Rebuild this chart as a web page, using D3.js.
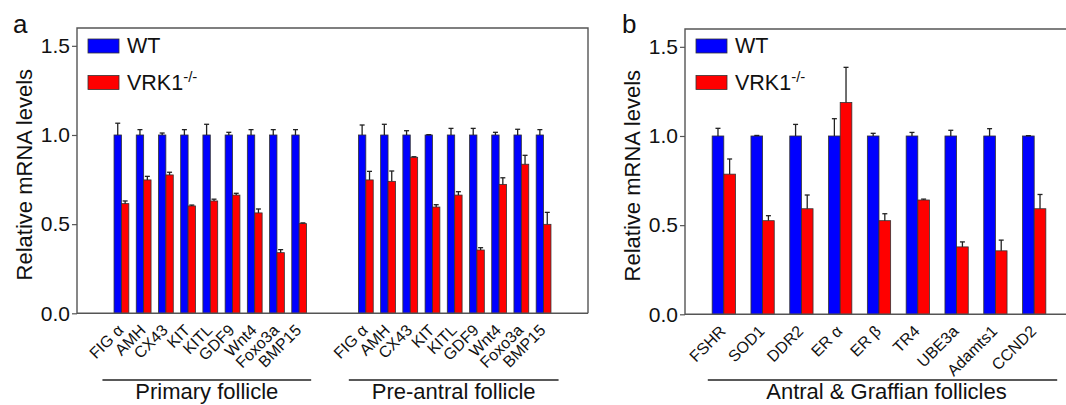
<!DOCTYPE html>
<html>
<head>
<meta charset="utf-8">
<script src="https://cdn.jsdelivr.net/npm/d3@7"></script>
<style>
  html, body { margin: 0; padding: 0; background: #fff; }
  svg { display: block; font-family: Arial, "Liberation Sans", sans-serif; }
</style>
</head>
<body>
<script>
// --- data ---
const genesA = ['FIG α', 'AMH', 'CX43', 'KIT', 'KITL', 'GDF9', 'Wnt4', 'Foxo3a', 'BMP15'];
const primaryWT = [1, 1, 1, 1, 1, 1, 1, 1, 1];
const primaryWTErr = [0.066, 0.03, 0.011, 0.03, 0.06, 0.015, 0.03, 0.03, 0.03];
const primaryKO = [0.615, 0.748, 0.776, 0.602, 0.63, 0.663, 0.563, 0.34, 0.503];
const primaryKOErr = [0.015, 0.02, 0.015, 0.005, 0.01, 0.01, 0.022, 0.017, 0.004];
const preantralWT = [1, 1, 1, 1, 1, 1, 1, 1, 1];
const preantralWTErr = [0.056, 0.06, 0.024, 0.002, 0.037, 0.037, 0.015, 0.032, 0.03];
const preantralKO = [0.748, 0.74, 0.875, 0.596, 0.663, 0.355, 0.723, 0.836, 0.499];
const preantralKOErr = [0.048, 0.058, 0.003, 0.013, 0.019, 0.013, 0.037, 0.05, 0.067];

const genesB = ['FSHR', 'SOD1', 'DDR2', 'ER α', 'ER β', 'TR4', 'UBE3a', 'Adamts1', 'CCND2'];
const antralWT = [1, 1, 1, 1, 1, 1, 1, 1, 1];
const antralWTErr = [0.043, 0.003, 0.065, 0.097, 0.015, 0.02, 0.032, 0.041, 0.002];
const antralKO = [0.786, 0.525, 0.592, 1.188, 0.525, 0.641, 0.378, 0.356, 0.592];
const antralKOErr = [0.085, 0.028, 0.077, 0.197, 0.039, 0.005, 0.028, 0.06, 0.08];

const yTicks = [0, 0.5, 1.0, 1.5];
const seriesNames = ['WT', 'VRK1'];
const colors = {WT: '#0000ff', KO: '#ff0000'};

const svg = d3.select('body').append('svg')
    .attr('width', 1066)
    .attr('height', 405);

function drawPanel(p) {
  const x = d3.scaleLinear().domain(p.xDomain).range([p.left, p.right]);
  const y = d3.scaleLinear().domain([0, 1.6]).range([p.bottom, p.top]);
  const g = svg.append('g');
  const bw = x(p.barW) - x(0);

  // bars
  const rows = [];
  p.groups.forEach(gr => {
    gr.labels.forEach((lab, i) => {
      const pos = gr.offset + i;
      rows.push({pos, lab, v: gr.wt[i], e: gr.wtErr[i], c: colors.WT, x0: x(pos) - bw});
      rows.push({pos, lab, v: gr.ko[i], e: gr.koErr[i], c: colors.KO, x0: x(pos)});
    });
  });

  g.selectAll('rect.bar').data(rows).enter().append('rect')
      .attr('class', 'bar')
      .attr('x', d => d.x0)
      .attr('y', d => y(d.v))
      .attr('width', bw)
      .attr('height', d => y(0) - y(d.v))
      .attr('fill', d => d.c)
      .attr('stroke', '#333')
      .attr('stroke-width', 0.8);

  // error bars (upper only)
  const eb = g.selectAll('g.err').data(rows).enter().append('g')
      .attr('stroke', '#222').attr('stroke-width', 1.3);
  eb.append('line')
      .attr('x1', d => d.x0 + bw / 2).attr('x2', d => d.x0 + bw / 2)
      .attr('y1', d => y(d.v)).attr('y2', d => y(d.v + d.e));
  eb.append('line')
      .attr('x1', d => d.x0 + bw / 2 - 2.5).attr('x2', d => d.x0 + bw / 2 + 2.5)
      .attr('y1', d => y(d.v + d.e)).attr('y2', d => y(d.v + d.e));

  // frame
  g.append('path')
      .attr('fill', 'none').attr('stroke', '#555').attr('stroke-width', 1.4)
      .attr('d', `M${p.right},${p.bottom}H${p.left}V${p.top}H${p.right}` + (p.closeRight ? `V${p.bottom}` : ''));

  // y axis
  const ax = g.append('g')
      .attr('transform', `translate(${p.left},0)`)
      .call(d3.axisLeft(y).tickValues(yTicks).tickFormat(d3.format('.1f')).tickSize(5).tickPadding(2));
  ax.select('.domain').remove();
  ax.selectAll('.tick line').attr('stroke', '#555').attr('stroke-width', 1.2);
  ax.selectAll('.tick text').attr('font-size', 21).attr('fill', '#111')
      .attr('font-family', 'Arial, "Liberation Sans", sans-serif');

  // y title
  g.append('text')
      .attr('transform', `translate(${p.left - 45},${(p.top + p.bottom) / 2 + 4}) rotate(-90)`)
      .attr('text-anchor', 'middle')
      .attr('font-size', 22)
      .attr('fill', '#111')
      .text('Relative mRNA levels');

  // panel letter
  g.append('text')
      .attr('x', p.letterX).attr('y', 33)
      .attr('font-size', 26).attr('fill', '#111')
      .text(p.letter);

  // x labels
  const labs = [];
  p.groups.forEach(gr => gr.labels.forEach((lab, i) => labs.push({lab, pos: gr.offset + i})));
  g.selectAll('text.xl').data(labs).enter().append('text')
      .attr('class', 'xl')
      .attr('transform', d => `translate(${x(d.pos) + 3},${p.bottom + 18}) rotate(-45)`)
      .attr('text-anchor', 'end')
      .attr('font-size', 16)
      .attr('fill', '#111')
      .text(d => d.lab);

  // group lines and titles
  p.groups.forEach(gr => {
    const x1 = x(gr.offset) + gr.lineL, x2 = x(gr.offset + gr.labels.length - 1) + gr.lineR;
    g.append('line').attr('x1', x1).attr('x2', x2).attr('y1', 380).attr('y2', 380)
        .attr('stroke', '#222').attr('stroke-width', 1.5);
    g.append('text')
        .attr('x', (x1 + x2) / 2 + gr.textDx).attr('y', 399)
        .attr('text-anchor', 'middle').attr('font-size', 22).attr('fill', '#111')
        .text(gr.title);
  });

  // legend
  const lg = g.append('g').attr('transform', `translate(${p.left + 11},0)`);
  [[colors.WT, 39], [colors.KO, 75.5]].forEach(([c, yy]) => {
    lg.append('rect').attr('x', 0).attr('y', yy).attr('width', 31).attr('height', 14)
        .attr('fill', c).attr('stroke', '#333').attr('stroke-width', 0.8);
  });
  lg.append('text').attr('x', 39).attr('y', 53).attr('font-size', 21.5).attr('fill', '#111').text(seriesNames[0]);
  const t2 = lg.append('text').attr('x', 39).attr('y', 89.5).attr('font-size', 21.5).attr('fill', '#111');
  t2.append('tspan').text(seriesNames[1]);
  t2.append('tspan').attr('dy', -8).attr('font-size', 15).text('-/-');
}

drawPanel({
  letter: 'a', letterX: 13,
  left: 77, right: 588, top: 28, bottom: 313.3, closeRight: true,
  xDomain: [-2, 21], barW: 0.333,
  groups: [
    {offset: 0, labels: genesA, wt: primaryWT, wtErr: primaryWTErr, ko: primaryKO, koErr: primaryKOErr,
     title: 'Primary follicle', lineL: -19, lineR: 12, textDx: 0},
    {offset: 11, labels: genesA, wt: preantralWT, wtErr: preantralWTErr, ko: preantralKO, koErr: preantralKOErr,
     title: 'Pre-antral follicle', lineL: -17, lineR: 15, textDx: 0}
  ]
});

drawPanel({
  letter: 'b', letterX: 622,
  left: 685, right: 1073, top: 29, bottom: 314.3, closeRight: false,
  xDomain: [-1, 9], barW: 0.3,
  groups: [
    {offset: 0, labels: genesB, wt: antralWT, wtErr: antralWTErr, ko: antralKO, koErr: antralKOErr,
     title: 'Antral & Graffian follicles', lineL: -16, lineR: 23, textDx: 4}
  ]
});
</script>
</body>
</html>
